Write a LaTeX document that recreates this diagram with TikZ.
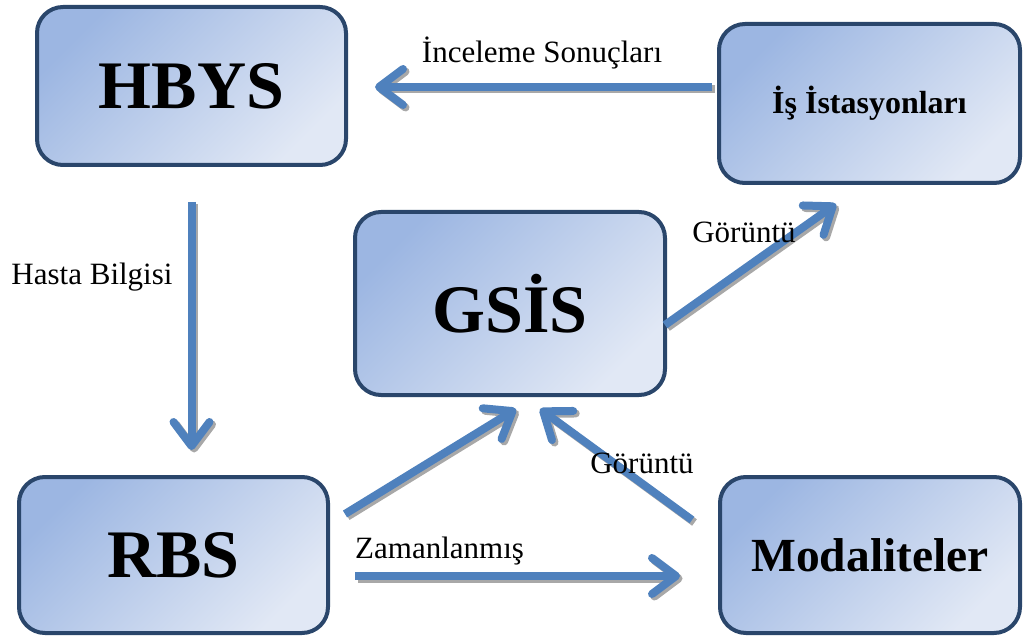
\documentclass[tikz,border=0pt]{standalone}
\usepackage{fontspec}
\setmainfont{Liberation Serif}
\usetikzlibrary{arrows.meta}

\definecolor{boxline}{HTML}{2A466B}
\definecolor{boxdark}{HTML}{9CB6E2}
\definecolor{boxlight}{HTML}{E1E8F5}
\definecolor{flow}{HTML}{4F81BD}
\definecolor{flowgray}{HTML}{A8A8A8}

\tikzset{
  sysbox/.style={draw=boxline, line width=4pt, rounded corners=26pt,
    top color=boxdark, bottom color=boxlight, shading angle=45,
    inner sep=0pt, font=\bfseries},
  bigtext/.style={font=\bfseries\fontsize{68}{72}\selectfont},
  flowarrow/.style={draw=flow, line width=8pt,
    -{Straight Barb[length=24pt, width=36pt, round]}},
  flowshade/.style={flowarrow, draw=flowgray,
    transform canvas={shift={(2.5pt,-2.5pt)}}},
  flowlabel/.style={font=\fontsize{31}{36}\selectfont, inner sep=0pt}
}

\newcommand\flowline[2]{%
  \draw[flowshade] (#1) -- (#2);
  \draw[flowarrow] (#1) -- (#2);}

\begin{document}
\begin{tikzpicture}[x=1pt, y=-1pt]
  \useasboundingbox (0,0) rectangle (1023,636);

  % systems
  \node[sysbox, bigtext, minimum width=309pt, minimum height=158pt]
    (hbys) at (191.5,86) {HBYS};
  \node[sysbox, font=\bfseries\fontsize{32}{36}\selectfont,
    minimum width=301pt, minimum height=159pt]
    (ist) at (869.5,103.5) {İş İstasyonları};
  \node[sysbox, bigtext, minimum width=310pt, minimum height=183pt]
    (gsis) at (510,303.5) {GSİS};
  \node[sysbox, bigtext, minimum width=309pt, minimum height=156pt]
    (rbs) at (173.5,555) {RBS};
  \node[sysbox, font=\bfseries\fontsize{47.5}{52}\selectfont,
    minimum width=300pt, minimum height=156pt]
    (mod) at (870,555) {Modaliteler};

  % connector end points
  \coordinate (ist-out)  at (712,87);
  \coordinate (hbys-in)  at (375,87);
  \coordinate (hbys-out) at (191.5,202);
  \coordinate (rbs-in)   at (191.5,450);
  \coordinate (gsis-out) at (665,325);
  \coordinate (ist-in)   at (836,204);
  \coordinate (rbs-up)   at (345,514);
  \coordinate (gsis-inl) at (516,409);
  \coordinate (mod-up)   at (692,520);
  \coordinate (gsis-inr) at (540,409);
  \coordinate (rbs-out)  at (355,576);
  \coordinate (mod-in)   at (680,576);

  % data flows
  \flowline{ist-out}{hbys-in}
  \flowline{hbys-out}{rbs-in}
  \flowline{gsis-out}{ist-in}
  \flowline{rbs-up}{gsis-inl}
  \flowline{mod-up}{gsis-inr}
  \flowline{rbs-out}{mod-in}

  % flow labels
  \node[flowlabel, anchor=base] (l-sonuc) at (542,63) {İnceleme Sonuçları};
  \node[flowlabel, anchor=base] (l-hasta) at (92,285) {Hasta Bilgisi};
  \node[flowlabel, anchor=base] (l-gor1) at (744,243) {Görüntü};
  \node[flowlabel, anchor=base] (l-gor2) at (642,473) {Görüntü};
  \node[flowlabel, anchor=base west] (l-zaman) at (355,558) {Zamanlanmış};
\end{tikzpicture}
\end{document}
